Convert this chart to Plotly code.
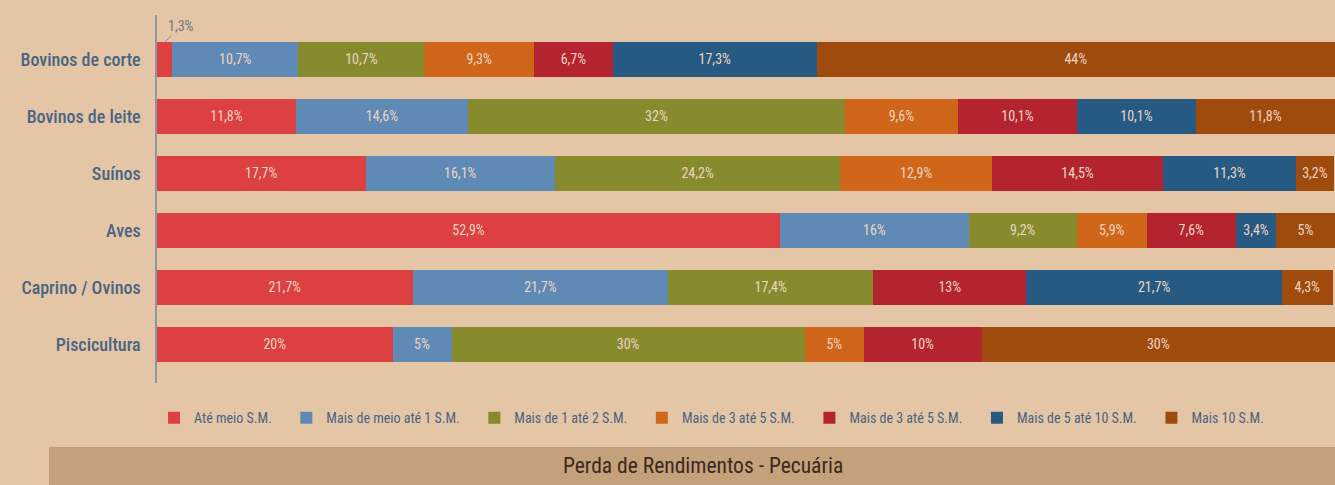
import plotly.graph_objects as go

# Categorias (de cima para baixo)
categorias = ["Bovinos de corte", "Bovinos de leite", "Suínos", "Aves", "Caprino / Ovinos", "Piscicultura"]

faixas = [
  "Até meio S.M.",
  "Mais de meio até 1 S.M.",
  "Mais de 1 até 2 S.M.",
  "Mais de 3 até 5 S.M.",
  "Mais de 3 até 5 S.M.",
  "Mais de 5 até 10 S.M.",
  "Mais 10 S.M.",
]

ate_meio = [1.3, 11.8, 17.7, 52.9, 21.7, 20]
meio_a_1 = [10.7, 14.6, 16.1, 16, 21.7, 5]
de_1_a_2 = [10.7, 32, 24.2, 9.2, 17.4, 30]
de_3_a_5_laranja = [9.3, 9.6, 12.9, 5.9, 0, 5]
de_3_a_5_vermelho = [6.7, 10.1, 14.5, 7.6, 13, 10]
de_5_a_10 = [17.3, 10.1, 11.3, 3.4, 21.7, 0]
mais_10 = [44, 11.8, 3.2, 5, 4.3, 30]

series = [ate_meio, meio_a_1, de_1_a_2, de_3_a_5_laranja, de_3_a_5_vermelho, de_5_a_10, mais_10]
cores = ["#DC4040", "#5F8AB6", "#878A2D", "#D0661A", "#B3242F", "#275A82", "#A04B0E"]

FONTE = "Roboto Condensed, DejaVu Sans Condensed, Roboto"
BG = "#E4C6A6"
AZUL_TEXTO = "#4A6482"


def fmt(v):
  return f"{v:g}".replace(".", ",") + "%"


def rotulo(v):
  # segmentos minúsculos ficam sem rótulo interno
  if v < 2:
    return ""
  return fmt(v)


fig = go.Figure()
for nome, valores, cor in zip(faixas, series, cores):
  fig.add_trace(go.Bar(
    y=categorias,
    x=valores,
    name=nome + "\u00a0\u00a0\u00a0",  # folga extra entre itens da legenda
    orientation="h",
    marker=dict(color=cor, line=dict(width=0)),
    text=[rotulo(v) for v in valores],
    textposition="inside",
    insidetextanchor="middle",
    textangle=0,
    textfont=dict(family=FONTE, size=14, color="#EBD5C2"),
    hoverinfo="x+name",
  ))

# rótulo do 1,3% fora da barra, com linha guia
fig.add_annotation(
  x=ate_meio[0] / 2, y=categorias[0], yshift=17,
  ax=16, ay=-16,
  text=fmt(ate_meio[0]),
  showarrow=True, arrowhead=0, arrowwidth=1, arrowcolor="#8A8F98",
  font=dict(family=FONTE, size=14, color="#6E7680"),
)

# faixa do título
fig.add_shape(type="rect", xref="paper", yref="paper",
              x0=-0.0917, x1=1.0, y0=-0.174, y1=-0.32,
              fillcolor="#C4A07B", line=dict(width=0), layer="below")
fig.add_annotation(
  xref="paper", yref="paper", x=0.4635, y=-0.2255, yanchor="middle",
  text="Perda de Rendimentos - Pecuária", showarrow=False,
  font=dict(family=FONTE, size=21.5, color="#3B2A1C"),
)

fig.update_layout(
  barmode="stack",
  bargap=0.39,
  width=1335, height=485,
  margin=dict(l=157, r=0, t=15, b=102),
  paper_bgcolor=BG, plot_bgcolor=BG,
  font=dict(family=FONTE, color=AZUL_TEXTO),
  showlegend=True,
  legend=dict(
    orientation="h", x=0.475, y=-0.052, xanchor="center", yanchor="top",
    font=dict(family=FONTE, size=14, color=AZUL_TEXTO),
    traceorder="normal", itemwidth=30,
    bgcolor="rgba(0,0,0,0)",
  ),
)
fig.update_xaxes(range=[0, 100], visible=False, fixedrange=True)
fig.update_yaxes(
  categoryorder="array", categoryarray=categorias,
  range=[5.68, -0.78],
  showline=True, linecolor="#8C98A6", linewidth=1.5,
  ticks="", ticklabelstandoff=11,
  tickfont=dict(family=FONTE, size=18, color=AZUL_TEXTO, weight=500),
  showgrid=False, zeroline=False, fixedrange=True,
)

fig.write_html("out.html", config={"displayModeBar": False},
               post_script="document.body.style.margin='0';")
